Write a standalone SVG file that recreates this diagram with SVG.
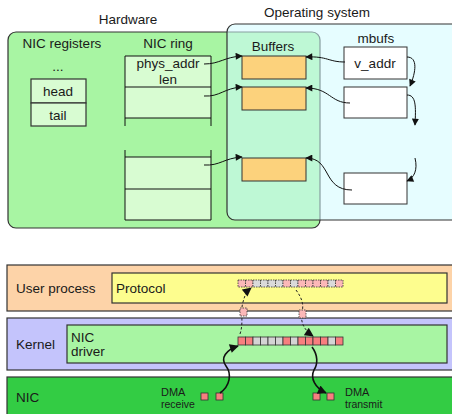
<svg xmlns="http://www.w3.org/2000/svg" width="452" height="414" viewBox="0 0 452 414">
<defs>
<style>
text{font-family:"Liberation Sans",Arial,sans-serif;fill:#1a1a1a;font-size:13.5px}
.c{text-anchor:middle}
.sm{font-size:11px}
.xs{font-size:10.5px}
.bd{stroke:#333;stroke-width:1.2}
.cell{fill:#d8fcd2;stroke:#333;stroke-width:1.2}
.buf{fill:#fcd27c;stroke:#333;stroke-width:1}
.mb{fill:#fff;stroke:#333;stroke-width:1}
.ln{fill:none;stroke:#111;stroke-width:1}
.th{fill:none;stroke:#111;stroke-width:1.6}
.da{fill:none;stroke:#222;stroke-width:1;stroke-dasharray:2.5 2}
.r{fill:#f77f7f;stroke:#333;stroke-width:0.8}
.g{fill:#d4d4d4;stroke:#333;stroke-width:0.8}
.rp{fill:#fcb8b8;stroke:#333;stroke-width:0.8;stroke-dasharray:1.5 1}
.gp{fill:#dadada;stroke:#333;stroke-width:0.8;stroke-dasharray:1.5 1}
</style>
<marker id="ah" viewBox="0 0 10 10" refX="9" refY="5" markerWidth="8" markerHeight="7" markerUnits="userSpaceOnUse" orient="auto"><path d="M0,0L10,5L0,10z" fill="#111"/></marker>
<marker id="ah2" viewBox="0 0 10 10" refX="9" refY="5" markerWidth="10" markerHeight="9" markerUnits="userSpaceOnUse" orient="auto"><path d="M0,0L10,5L0,10z" fill="#111"/></marker>
</defs>

<text class="c" x="128" y="24">Hardware</text>
<text class="c" x="317" y="17">Operating system</text>

<g id="hardware">
<rect x="8" y="32" width="312" height="196" rx="8" fill="#a8f5a3" class="bd"/>
</g>

<g id="nic-registers">
<text class="c" x="62" y="48">NIC registers</text>
<text class="c" x="58" y="71">...</text>
<rect x="31" y="79" width="55" height="24" class="cell"/>
<rect x="31" y="103" width="55" height="23" class="cell"/>
<text class="c" x="58" y="96">head</text>
<text class="c" x="58" y="120">tail</text>
</g>

<g id="nic-ring">
<text class="c" x="168" y="48">NIC ring</text>
<rect x="125" y="56" width="86" height="31" fill="#d8fcd2"/>
<rect x="125" y="87" width="86" height="31" fill="#d8fcd2"/>
<path d="M125,126V56H211V126M125,87H211M125,118H211" class="ln" stroke="#333" stroke-width="1.2"/>
<rect x="125" y="157" width="86" height="32" fill="#d8fcd2"/>
<rect x="125" y="189" width="86" height="31" fill="#d8fcd2"/>
<path d="M125,150V220H211V150M125,157H211M125,189H211" class="ln" stroke="#333" stroke-width="1.2"/>
<text class="c" x="168" y="68">phys_addr</text>
<text class="c" x="168" y="84">len</text>
</g>

<g id="os">
<rect x="227" y="24" width="235" height="196" rx="8" fill="rgb(209,251,255)" fill-opacity="0.54" class="bd"/>
</g>

<g id="buffers">
<text class="c" x="273" y="51">Buffers</text>
<rect x="242" y="56" width="64" height="23" class="buf"/>
<rect x="242" y="87" width="64" height="23" class="buf"/>
<rect x="242" y="158" width="64" height="23" class="buf"/>
</g>

<g id="mbufs">
<text class="c" x="376" y="43">mbufs</text>
<rect x="344" y="47" width="63" height="32" class="mb"/>
<rect x="344" y="87" width="63" height="31" class="mb"/>
<rect x="344" y="173" width="63" height="31" class="mb"/>
<text class="c" x="375" y="68">v_addr</text>
</g>

<g id="connectors-top">
<path d="M204,64C220,64 224,57 242,56" class="ln" marker-end="url(#ah)"/>
<path d="M204,96C220,97 224,88 242,87" class="ln" marker-end="url(#ah)"/>
<path d="M204,165C220,166 224,158 242,157" class="ln" marker-end="url(#ah)"/>
<path d="M345,62C328,62 328,56 306,57" class="ln" marker-end="url(#ah)"/>
<path d="M350,103C330,103 330,88 306,88" class="ln" marker-end="url(#ah)"/>
<path d="M352,190C322,190 332,158 306,158" class="ln" marker-end="url(#ah)"/>
<path d="M407,57C418,57 416,72 410,86" class="ln" marker-end="url(#ah)"/>
<path d="M407,95C416,95 416,106 415,125" class="ln" marker-end="url(#ah)"/>
<path d="M415,158C418,170 414,178 407,181" class="ln" marker-end="url(#ah)"/>
</g>

<g id="user-process">
<rect x="7" y="265" width="455" height="46" fill="#fdd3a8" class="bd"/>
<text x="16" y="293">User process</text>
</g>
<g id="protocol">
<rect x="112" y="273" width="335" height="30" fill="#fdfd8e" class="bd"/>
<text x="116" y="293">Protocol</text>
</g>
<g id="kernel">
<rect x="7" y="318" width="455" height="52" fill="#c4c4fc" class="bd"/>
<text x="16" y="349">Kernel</text>
</g>
<g id="nic-driver">
<rect x="67" y="325" width="380" height="38" fill="#a8f5a3" class="bd"/>
<text x="71" y="342">NIC</text>
<text x="71" y="356">driver</text>
</g>
<g id="nic">
<rect x="7" y="377" width="455" height="45" fill="#33cc44" class="bd"/>
<text x="16" y="402">NIC</text>
<text class="sm" x="161" y="396">DMA</text>
<text class="xs" x="161" y="408">receive</text>
<text class="sm" x="345" y="396">DMA</text>
<text class="xs" x="345" y="408">transmit</text>
<rect x="201" y="393" width="7" height="7" class="r"/>
<rect x="216" y="393" width="7" height="7" class="r"/>
<rect x="313" y="393" width="7" height="7" class="r"/>
<rect x="327" y="393" width="7" height="7" class="r"/>
</g>

<g id="kernel-array">
<rect x="238" y="337" width="7.5" height="8" class="r"/>
<rect x="245.5" y="337" width="7.5" height="8" class="r"/>
<rect x="253" y="337" width="7.5" height="8" class="g"/>
<rect x="260.5" y="337" width="7.5" height="8" class="g"/>
<rect x="268" y="337" width="7.5" height="8" class="g"/>
<rect x="275.5" y="337" width="7.5" height="8" class="g"/>
<rect x="283" y="337" width="7.5" height="8" class="r"/>
<rect x="290.5" y="337" width="7.5" height="8" class="g"/>
<rect x="298" y="337" width="7.5" height="8" class="r"/>
<rect x="305.5" y="337" width="7.5" height="8" class="r"/>
<rect x="313" y="337" width="7.5" height="8" class="r"/>
<rect x="320.5" y="337" width="7.5" height="8" class="r"/>
<rect x="328" y="337" width="7.5" height="8" class="g"/>
<rect x="335.5" y="337" width="7.5" height="8" class="r"/>
</g>

<g id="protocol-array">
<rect x="238" y="280" width="7.5" height="7" class="rp"/>
<rect x="245.5" y="280" width="7.5" height="7" class="rp"/>
<rect x="253" y="280" width="7.5" height="7" class="gp"/>
<rect x="260.5" y="280" width="7.5" height="7" class="gp"/>
<rect x="268" y="280" width="7.5" height="7" class="gp"/>
<rect x="275.5" y="280" width="7.5" height="7" class="gp"/>
<rect x="283" y="280" width="7.5" height="7" class="rp"/>
<rect x="290.5" y="280" width="7.5" height="7" class="gp"/>
<rect x="298" y="280" width="7.5" height="7" class="rp"/>
<rect x="305.5" y="280" width="7.5" height="7" class="rp"/>
<rect x="313" y="280" width="7.5" height="7" class="rp"/>
<rect x="320.5" y="280" width="7.5" height="7" class="rp"/>
<rect x="328" y="280" width="7.5" height="7" class="gp"/>
<rect x="335.5" y="280" width="7.5" height="7" class="rp"/>
</g>

<g id="connectors-bottom">
<path d="M220,393C230,386 232,374 226,366C220,358 226,350 238,346" class="th" marker-end="url(#ah2)"/>
<path d="M312,347C318,355 318,364 314,370C310,378 315,388 326,393" class="th" marker-end="url(#ah2)"/>
<path d="M240,334C244,322 240,312 243,302C245,295 246,292 251,288" class="da" marker-end="url(#ah2)"/>
<path d="M296,290C302,298 304,305 302,312C300,322 304,330 313,336" class="da" marker-end="url(#ah2)"/>
<rect x="240" y="308" width="7" height="8" class="rp"/>
<rect x="299" y="310" width="7" height="8" class="rp"/>
</g>
</svg>
